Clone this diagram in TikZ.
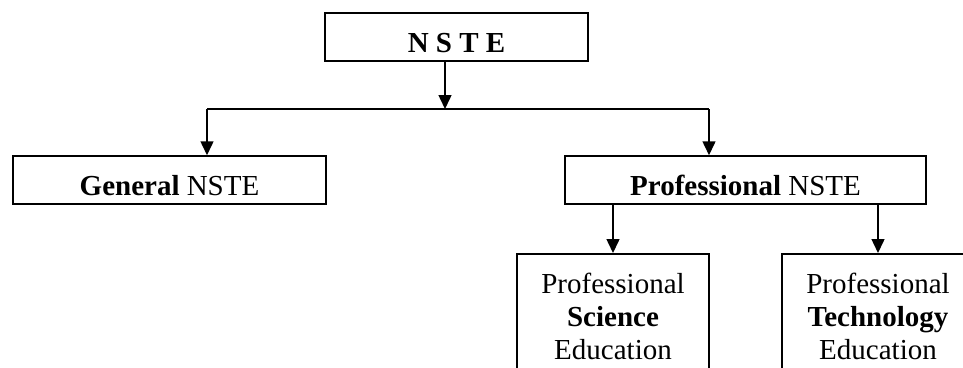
\documentclass[tikz,border=0pt]{standalone}
\usepackage{fontspec}
\setmainfont{Liberation Serif}
\usetikzlibrary{positioning,arrows.meta}

\begin{document}
\begin{tikzpicture}[
  x=1pt, y=-1pt,
  box/.style={draw, line width=1.5pt, align=center, font=\fontsize{29}{33}\selectfont, inner sep=0pt, minimum height=48pt, text height=30pt, text depth=0pt},
  leaf/.style={draw, line width=1.5pt, align=center, font=\fontsize{29}{33}\selectfont, anchor=north, minimum width=192pt, inner xsep=0pt, inner ysep=19pt},
  arr/.style={-{Triangle[length=14pt,width=13pt]}, line width=1.5pt}
]
  \useasboundingbox (0,0) rectangle (963,367);

  \node[box, minimum width=263pt] (nste) at (456.5,37) {\textbf{N S T E}};
  \node[box, minimum width=313pt] (gen) at (169.5,180) {\textbf{General} NSTE};
  \node[box, minimum width=361pt] (prof) at (745.5,180) {\textbf{Professional} NSTE};
  \node[leaf] (sci) at (613,253) {Professional\\\textbf{Science}\\Education\\ };
  \node[leaf] (tech) at (878,253) {Professional\\\textbf{Technology}\\Education\\ };

  \coordinate (jm) at (445,109);
  \coordinate (jl) at (207,109);
  \coordinate (jr) at (709,109);

  \draw[arr] (jm |- nste.south) -- (jm);
  \draw[line width=1.5pt] (jl) -- (jr);
  \draw[arr] (jl) -- (jl |- gen.north);
  \draw[arr] (jr) -- (jr |- prof.north);
  \draw[arr] (sci.north |- prof.south) -- (sci.north);
  \draw[arr] (tech.north |- prof.south) -- (tech.north);
\end{tikzpicture}
\end{document}
